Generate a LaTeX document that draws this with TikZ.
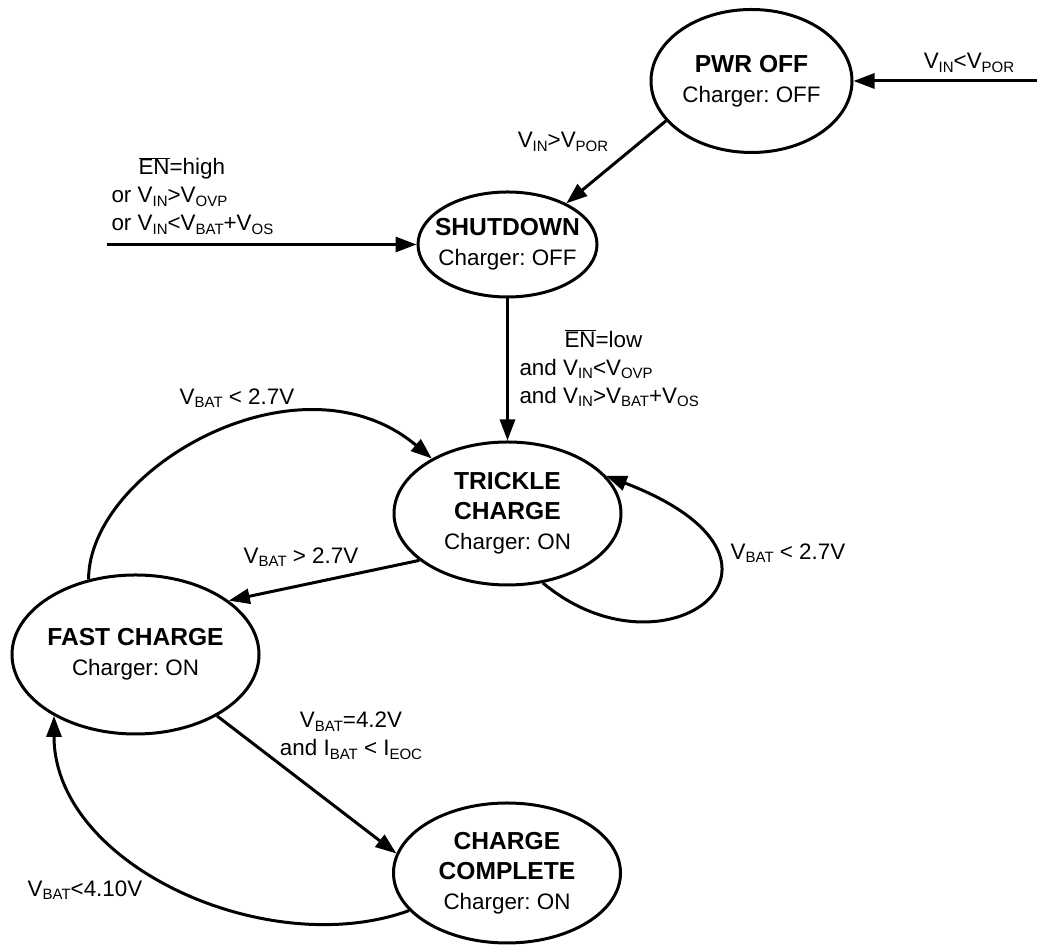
\documentclass[tikz,border=0pt]{standalone}
\usepackage{fontspec}
\setmainfont{Liberation Sans}
\usepackage{tikz}
\usetikzlibrary{shapes.geometric, arrows.meta}
\frenchspacing

\newcommand{\lowsub}[1]{\raisebox{-0.3ex}{\fontsize{15}{15}\selectfont #1}}
\newcommand{\stname}[1]{{\fontsize{24.6}{30}\selectfont\bfseries #1}}
\newcommand{\enbar}{$\overline{\mbox{EN}}$}

\begin{document}
\begin{tikzpicture}[x=1pt, y=1pt, line width=3pt, >={Triangle[length=21pt, width=15pt]},
    state/.style={draw, ellipse, inner sep=-10pt, align=center, font=\fontsize{22.4}{30}\selectfont},
    cond/.style={align=center, inner sep=0pt, font=\fontsize{22.4}{28}\selectfont}]
    \useasboundingbox (0,0) rectangle (1037,949);

    \node[state, minimum width=201pt, minimum height=143pt]  (PO)  at (751.5, 868.0)  {\stname{PWR OFF} \\ Charger: OFF};
    \node[state, minimum width=179pt, minimum height=105pt]  (SD)  at (507.5, 704.5)  {\stname{SHUTDOWN} \\ Charger: OFF};
    \node[state, minimum width=227pt, minimum height=143pt]  (TC)  at (507.5, 435.5)  {\stname{TRICKLE} \\ \stname{CHARGE} \\ Charger: ON};
    \node[state, minimum width=247pt, minimum height=159pt]  (FC)  at (135.5, 294.5)  {\stname{FAST CHARGE} \\ Charger: ON};
    \node[state, minimum width=227pt, minimum height=140pt]  (CC)  at (507.0,  76.0)  {\stname{CHARGE} \\ \stname{COMPLETE} \\ Charger: ON};

    \coordinate (inR) at (1037, 868);
    \coordinate (inL) at (107, 704.5);

    \node[cond]                          (lbPor)  at (969, 886)    {V\lowsub{IN}<V\lowsub{POR}};
    \node[cond]                          (lbPon)  at (563, 807)    {V\lowsub{IN}>V\lowsub{POR}};
    \node[cond, anchor=west, align=left] (lbOff)  at (110, 753)    {\hspace*{27pt}\enbar=high \\ or V\lowsub{IN}>V\lowsub{OVP} \\ or V\lowsub{IN}<V\lowsub{BAT}+V\lowsub{OS}};
    \node[cond, anchor=west, align=left] (lbOn)   at (518, 580.5)  {\hspace*{45pt}\enbar=low \\ and V\lowsub{IN}<V\lowsub{OVP} \\ and V\lowsub{IN}>V\lowsub{BAT}+V\lowsub{OS}};
    \node[cond]                          (lbBack) at (237, 551)    {V\lowsub{BAT} < 2.7V};
    \node[cond]                          (lbFast) at (301, 392)    {V\lowsub{BAT} > 2.7V};
    \node[cond]                          (lbStay) at (788, 396)    {V\lowsub{BAT} < 2.7V};
    \node[cond]                          (lbDone) at (351, 213)    {V\lowsub{BAT}=4.2V \\ and I\lowsub{BAT} < I\lowsub{EOC}};
    \node[cond]                          (lbRe)   at (85, 59)      {V\lowsub{BAT}<4.10V};

    \draw[->] (inR) -- (PO.east);
    \draw[->] (PO.205) -- (SD.35);
    \draw[->] (inL) -- (SD.west);
    \draw[->] (SD.south) -- (TC.north);

    \draw[->] (TC.208) -- (FC.30);
    \draw[->] (FC.122) .. controls +(90:110) and +(140:173) .. (TC.144);
    \draw[->] (TC.297) .. controls +(-40:160) and +(-21:240) .. (TC.21);

    \draw[->] (FC.323) -- (CC.170);
    \draw[->] (CC.201) .. controls +(200:150) and +(-90:150) .. (FC.217);
\end{tikzpicture}
\end{document}
